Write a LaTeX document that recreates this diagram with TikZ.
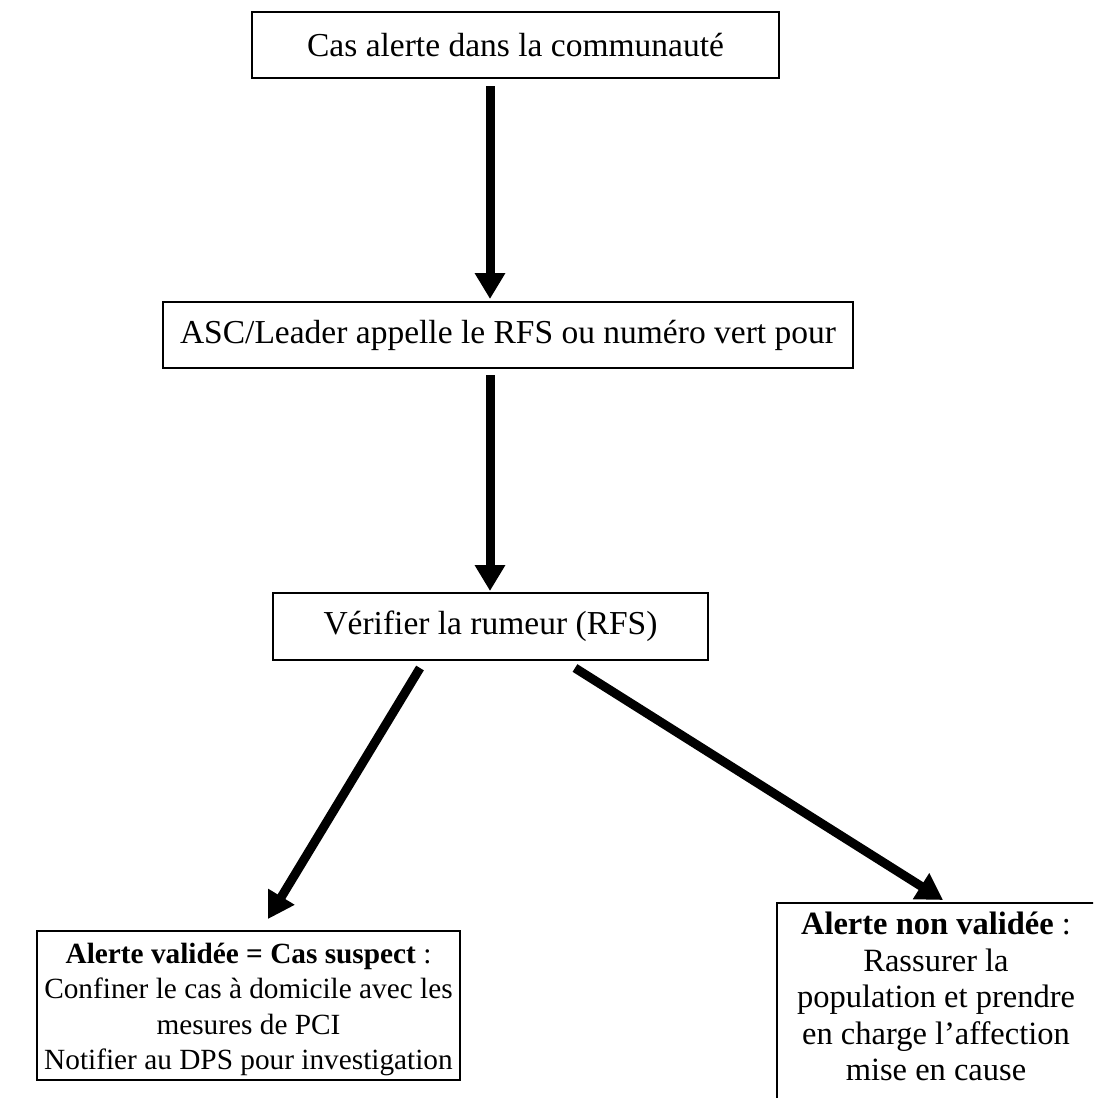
\documentclass[tikz,border=0pt]{standalone}
\usepackage{fontspec}
\setmainfont{Liberation Serif}
\usetikzlibrary{arrows.meta,calc}
\begin{document}
\begin{tikzpicture}[x=1pt,y=-1pt,
  box/.style={draw,line width=2pt,rectangle,inner sep=0pt,align=center,
    font=\fontsize{33.5}{36.5}\selectfont},
  txt/.style={inner sep=0pt,align=center,font=\fontsize{32.5}{36.5}\selectfont},
  arr/.style={line width=9pt,-{Triangle[width=29pt,length=26pt]}}]
\useasboundingbox (0,0) rectangle (1093,1098);
\clip (0,0) rectangle (1093,1098);
\node[box,minimum width=527pt,minimum height=66pt] (b1) at (515.5,45) {Cas alerte dans la communauté};
\node[box,minimum width=690pt,minimum height=66pt] (b2) at (508,335) {ASC/Leader appelle le RFS ou numéro vert pour};
\node[box,minimum width=435pt,minimum height=67pt] (b3) at (490.5,626.5) {Vérifier la rumeur (RFS)};
\node[box,minimum width=423pt,minimum height=149pt] (b4) at (248.5,1005.5) {};
\node[txt,font=\fontsize{29.3}{35.5}\selectfont] (t4) at ($(b4.center)+(0,4)$) {\textbf{Alerte validée = Cas suspect} :\\Confiner le cas à domicile avec les\\mesures de PCI\\Notifier au DPS pour investigation};
\node[box,minimum width=318pt,minimum height=230pt,anchor=north] (b5) at (936,902) {};
\node[txt,anchor=north] (t5) at ($(b5.north)+(0,10)$) {\textbf{Alerte non validée} :\\Rassurer la\\population et prendre\\en charge l’affection\\mise en cause};
\draw[arr] ($(b1.south)+(-25.5,7)$) -- ($(b2.north)+(-18,-2)$);
\draw[arr] ($(b2.south)+(-18,6)$) -- ($(b3.north)+(-0.5,-1)$);
\draw[arr] ($(b3.south)+(-70.5,7)$) -- ($(b4.north)+(19.5,-11)$);
\draw[arr] ($(b3.south)+(84.5,7)$) -- ($(b5.north)+(7,-2)$);
\end{tikzpicture}
\end{document}
